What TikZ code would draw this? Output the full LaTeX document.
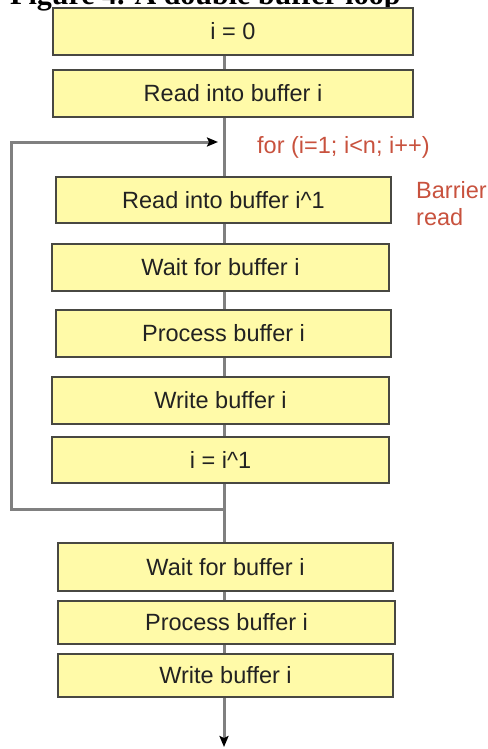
\documentclass[tikz,border=0pt]{standalone}
\usepackage{fontspec}
\setmainfont{Liberation Sans}
\newfontfamily\titlefont{Liberation Serif}
\usetikzlibrary{arrows.meta}

\definecolor{boxfill}{RGB}{255,250,168}
\definecolor{boxedge}{RGB}{72,72,66}
\definecolor{wire}{RGB}{128,128,128}
\definecolor{note}{RGB}{200,82,62}
\definecolor{ink}{RGB}{34,34,34}

\tikzset{
  stepbox/.style={draw=boxedge, line width=1.5pt, fill=boxfill,
    text=ink, font=\fontsize{23.5}{27}\selectfont, inner sep=0pt},
  wireline/.style={draw=wire, line width=3pt},
  tip/.style={-{Stealth[length=11pt,width=9pt,inset=2pt,color=black]}},
  remark/.style={text=note, font=\fontsize{23.5}{27}\selectfont, inner sep=0pt},
}

\begin{document}
\begin{tikzpicture}[x=1pt, y=-1pt]
  \useasboundingbox (0,0) rectangle (487,749);

  % caption, partly above the page edge
  \node[anchor=base west, inner sep=0pt, font=\titlefont\bfseries\fontsize{30}{34}\selectfont]
    (title) at (10,4.5) {Figure 4. A double buffer loop};

  % central spine and loop anchors
  \coordinate (spine) at (224,0);
  \coordinate (back)  at (11,0);
  \coordinate (entry) at (218,142);
  \coordinate (join)  at (224,509);
  \coordinate (out)   at (224,747);

  % steps before the loop
  \node[stepbox, minimum width=360pt, minimum height=47pt] (b1) at (233,31.5) {i = 0};
  \node[stepbox, minimum width=360pt, minimum height=47pt] (b2) at (233,93.5) {Read into buffer i};

  % loop body
  \node[stepbox, minimum width=335pt, minimum height=46pt] (b3) at (223.5,200) {Read into buffer i\^{}1};
  \node[stepbox, minimum width=337pt, minimum height=47pt] (b4) at (220.5,267.5) {Wait for buffer i};
  \node[stepbox, minimum width=335pt, minimum height=47pt] (b5) at (223.5,333.5) {Process buffer i};
  \node[stepbox, minimum width=337pt, minimum height=47pt] (b6) at (220.5,400.5) {Write buffer i};
  \node[stepbox, minimum width=337pt, minimum height=46pt] (b7) at (220.5,460) {i = i\^{}1};

  % steps after the loop
  \node[stepbox, minimum width=335pt, minimum height=48pt] (b8) at (225.5,567) {Wait for buffer i};
  \node[stepbox, minimum width=337pt, minimum height=43pt] (b9) at (226.5,622.5) {Process buffer i};
  \node[stepbox, minimum width=335pt, minimum height=43pt] (b10) at (225.5,675.5) {Write buffer i};

  % annotations
  \node[remark, anchor=west] (loophead) at (257,147) {for (i=1; i<n; i++)};
  \node[remark, anchor=west, align=left] (barrier) at (416,204) {Barrier\\read};

  % connectors along the spine
  \draw[wireline] (b1.south -| spine) -- (b2.north -| spine);
  \draw[wireline] (b2.south -| spine) -- (b3.north -| spine);
  \draw[wireline] (b3.south -| spine) -- (b4.north -| spine);
  \draw[wireline] (b4.south -| spine) -- (b5.north -| spine);
  \draw[wireline] (b5.south -| spine) -- (b6.north -| spine);
  \draw[wireline] (b6.south -| spine) -- (b7.north -| spine);
  \draw[wireline] (b7.south -| spine) -- (b8.north -| spine);
  \draw[wireline] (b8.south -| spine) -- (b9.north -| spine);
  \draw[wireline] (b9.south -| spine) -- (b10.north -| spine);
  \draw[wireline, tip] (b10.south -| spine) -- (out);

  % loop-back path
  \draw[wireline, tip] (join) -- (join -| back) -- (entry -| back) -- (entry);
\end{tikzpicture}
\end{document}
